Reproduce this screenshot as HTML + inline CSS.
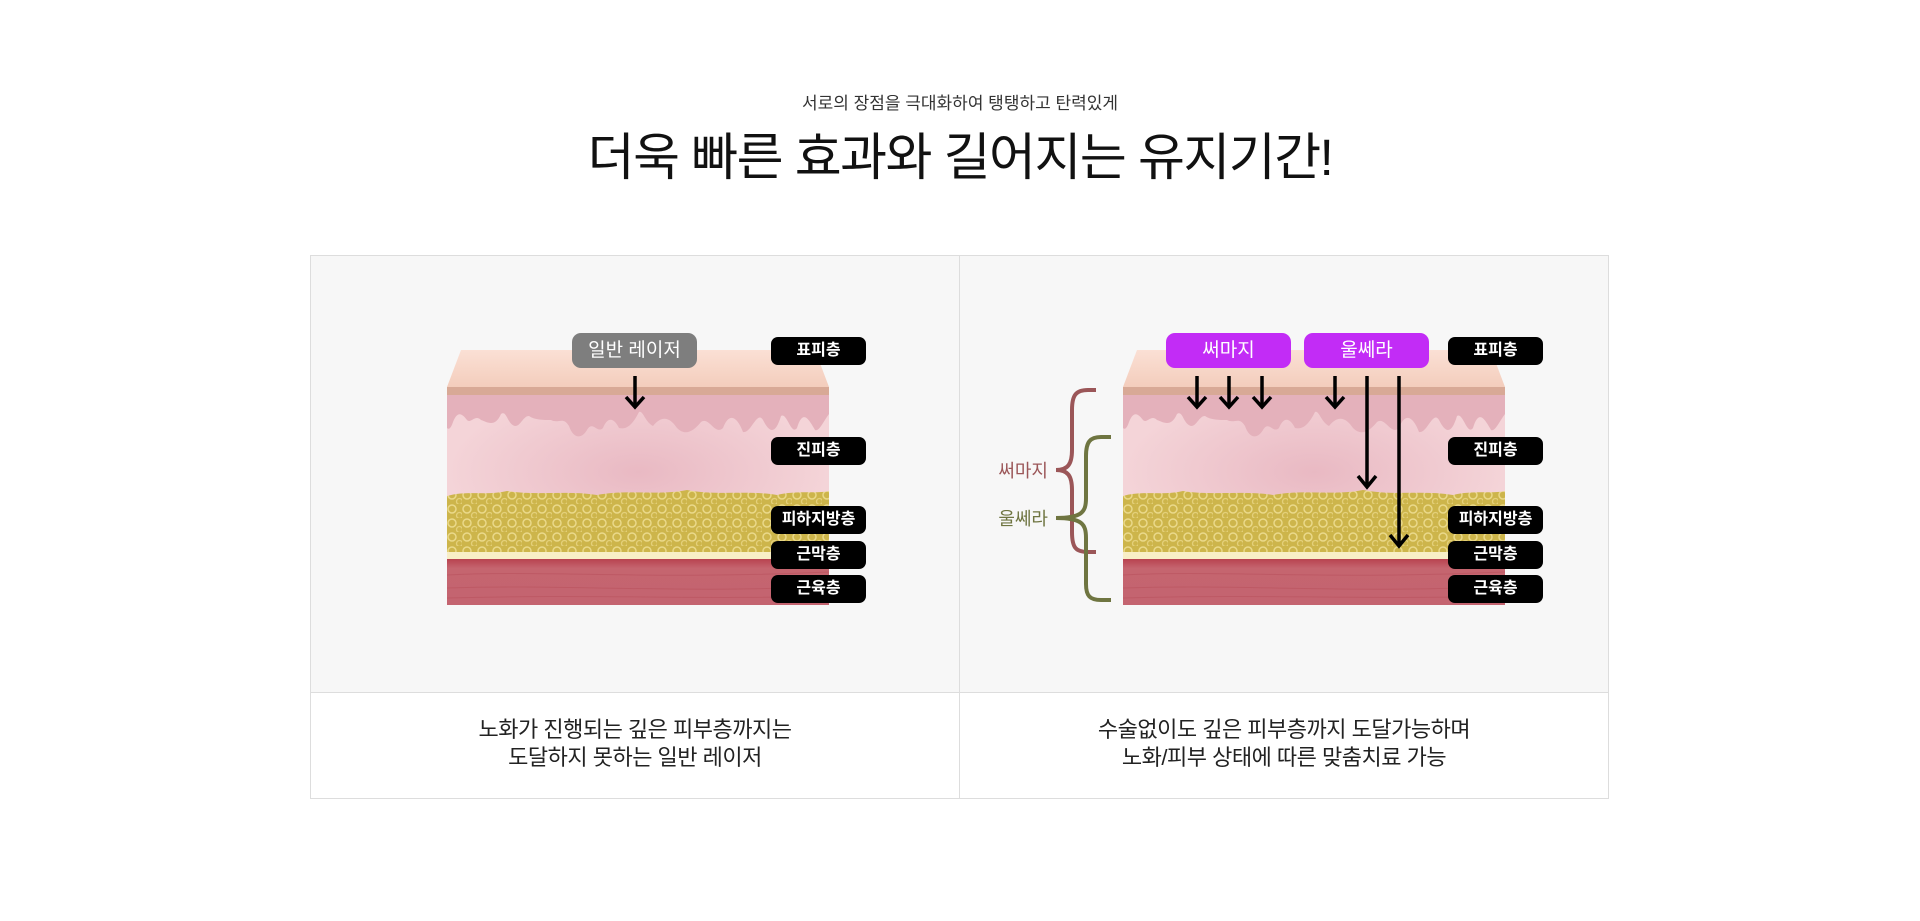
<!DOCTYPE html>
<html><head><meta charset="utf-8">
<style>
*{margin:0;padding:0;box-sizing:border-box}
body{width:1920px;height:921px;background:#fff;position:relative;overflow:hidden;font-family:"Liberation Sans","Noto Sans CJK KR",sans-serif;color:#222}
.abs{position:absolute}
.sub{left:0;width:1920px;top:89px;text-align:center;font-size:17px;color:#333}
.title{left:0;width:1920px;top:124px;text-align:center;font-size:51px;font-weight:400;letter-spacing:-1.5px;color:#111;line-height:68px}
.panel{top:255px;width:650px;height:544px;border:1px solid #ddd;background:#fff}
.panel .img{position:absolute;left:0;top:0;right:0;height:437px;background:#f7f7f7;border-bottom:1px solid #ddd}
.cap{position:absolute;left:0;right:0;top:460px;text-align:center;font-size:22px;line-height:28px;color:#222;letter-spacing:-0.5px}
.bl{position:absolute;width:95px;height:28px;background:#000;color:#fff;border-radius:7px;font-size:16px;font-weight:bold;text-align:center;line-height:28px}
.pl{position:absolute;height:35px;width:125px;background:#c22cf6;color:#fff;border-radius:9px;font-size:19px;text-align:center;line-height:35px}
.gl{position:absolute;height:35px;width:125px;background:#7e7e7e;color:#fff;border-radius:9px;font-size:19px;text-align:center;line-height:35px}
</style></head><body>
<svg width="0" height="0" style="position:absolute">
<defs>
<linearGradient id="topf" x1="0" y1="0" x2="0" y2="1"><stop offset="0" stop-color="#fbe0d5"/><stop offset="1" stop-color="#f3cdbc"/></linearGradient>
<radialGradient id="derm" cx="0.5" cy="0.5" r="0.5"><stop offset="0" stop-color="#e9b9c3"/><stop offset="1" stop-color="#f4d4d8"/></radialGradient>
<linearGradient id="musc" x1="0" y1="0" x2="0" y2="1"><stop offset="0" stop-color="#b8424f"/><stop offset="0.2" stop-color="#c5656f"/><stop offset="1" stop-color="#c46470"/></linearGradient>
<pattern id="fat" width="15" height="14" patternUnits="userSpaceOnUse">
<rect width="15" height="14" fill="#cdb54b"/>
<circle cx="5" cy="5" r="4" fill="none" stroke="#ead98a" stroke-width="1.5"/>
<circle cx="12.5" cy="11.5" r="3" fill="none" stroke="#e4d07a" stroke-width="1.3"/>
</pattern>
<g id="skin">
<polygon points="14,0 368,0 382,37 0,37" fill="url(#topf)"/>
<rect x="0" y="37" width="382" height="170" fill="url(#derm)"/>
<rect x="0" y="37" width="382" height="8" fill="#d8a996"/>
<path d="M0,45 H382 V64 C376,72 372,82 368,80 C362,70 356,58 350,78 C344,86 340,62 334,66 C328,86 322,82 316,70 C310,60 304,84 296,82 C290,66 282,62 276,78 C268,86 262,66 254,72 C246,82 238,86 230,78 C222,66 214,66 206,76 C198,72 196,60 192,62 C186,74 180,80 172,78 C166,66 160,68 156,78 C150,84 146,70 140,80 C134,90 126,88 122,76 C116,66 112,74 104,70 C96,70 88,70 82,66 C76,66 74,76 68,76 C60,74 60,60 54,64 C48,78 40,72 34,70 C28,64 24,74 20,70 C14,62 10,62 6,72 C4,78 2,80 0,78 Z" fill="#e4b1bb"/>
<path d="M0,146 C20,140 40,146 60,141 C90,146 120,140 150,145 C180,139 210,146 240,140 C270,146 300,140 330,145 C350,140 370,144 382,141 V202 H0 Z" fill="url(#fat)"/>
<rect x="0" y="202" width="382" height="7" fill="#f8eec6"/>
<rect x="0" y="209" width="382" height="46" fill="url(#musc)"/>
<path d="M0,225 C100,220 200,230 382,222 M0,238 C120,234 240,244 382,236 M0,248 C150,244 250,250 382,246" stroke="#b9525e" stroke-width="1" fill="none" opacity="0.6"/>
</g>
<g id="arr"><path d="M0,0 V30" stroke="#000" stroke-width="3.5"/><path d="M-9,21 L0,31 L9,21" stroke="#000" stroke-width="3.5" fill="none"/></g>
</defs>
</svg>

<div class="abs sub">서로의 장점을 극대화하여 탱탱하고 탄력있게</div>
<div class="abs title">더욱 빠른 효과와 길어지는 유지기간!</div>

<div class="abs panel" style="left:310px">
 <div class="img"></div>
 <div class="cap">노화가 진행되는 깊은 피부층까지는<br>도달하지 못하는 일반 레이저</div>
</div>
<div class="abs panel" style="left:959px">
 <div class="img"></div>
 <div class="cap">수술없이도 깊은 피부층까지 도달가능하며<br>노화/피부 상태에 따른 맞춤치료 가능</div>
</div>

<svg class="abs" style="left:0;top:0" width="1920" height="921">
 <use href="#skin" x="447" y="350"/>
 <use href="#skin" x="1123" y="350"/>
 <use href="#arr" x="635" y="376"/>
 <use href="#arr" x="1197" y="376"/>
 <use href="#arr" x="1229" y="376"/>
 <use href="#arr" x="1262" y="376"/>
 <use href="#arr" x="1335" y="376"/>
 <path d="M1367,376 V486" stroke="#000" stroke-width="3.5"/><path d="M1358,476 L1367,487 L1376,476" stroke="#000" stroke-width="3.5" fill="none"/>
 <path d="M1399,376 V545" stroke="#000" stroke-width="3.5"/><path d="M1390,535 L1399,546 L1408,535" stroke="#000" stroke-width="3.5" fill="none"/>
 <path d="M1096,390 H1088 C1076,390 1072,395 1072,410 V450 C1072,464 1068,470 1056,470 C1068,470 1072,476 1072,490 V532 C1072,548 1076,552 1088,552 H1096" stroke="#9b5658" stroke-width="4" fill="none"/>
 <path d="M1111,437 H1101 C1090,437 1086,442 1086,456 V498 C1086,512 1082,518 1056,518 C1082,518 1086,524 1086,538 V584 C1086,596 1090,600 1101,600 H1111" stroke="#6f7541" stroke-width="4" fill="none"/>
 <text x="1048" y="477" text-anchor="end" font-size="18" fill="#9b5658" font-family="Liberation Sans,Noto Sans CJK KR,sans-serif">써마지</text>
 <text x="1048" y="525" text-anchor="end" font-size="18" fill="#6f7541" font-family="Liberation Sans,Noto Sans CJK KR,sans-serif">울쎄라</text>
</svg>

<div class="gl" style="left:572px;top:333px">일반 레이저</div>
<div class="pl" style="left:1166px;top:333px">써마지</div>
<div class="pl" style="left:1304px;top:333px">울쎄라</div>

<div class="bl" style="left:771px;top:337px">표피층</div>
<div class="bl" style="left:771px;top:437px">진피층</div>
<div class="bl" style="left:771px;top:506px">피하지방층</div>
<div class="bl" style="left:771px;top:541px">근막층</div>
<div class="bl" style="left:771px;top:575px">근육층</div>

<div class="bl" style="left:1448px;top:337px">표피층</div>
<div class="bl" style="left:1448px;top:437px">진피층</div>
<div class="bl" style="left:1448px;top:506px">피하지방층</div>
<div class="bl" style="left:1448px;top:541px">근막층</div>
<div class="bl" style="left:1448px;top:575px">근육층</div>
</body></html>
